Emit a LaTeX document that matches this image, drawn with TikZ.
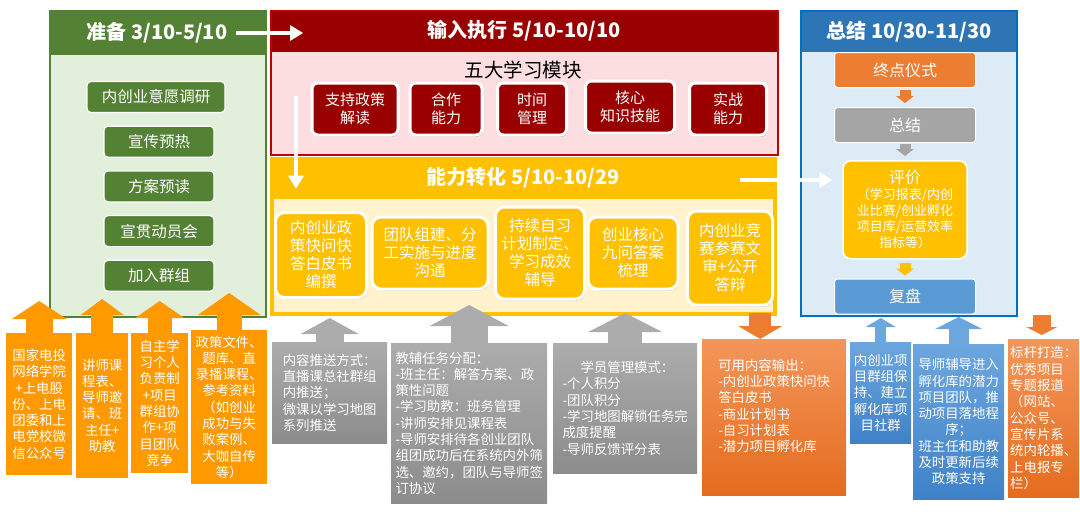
\documentclass[tikz,border=0pt]{standalone}
\usepackage{fontspec}
\setmainfont{Noto Sans CJK SC}
\usepackage{xcolor}
\usepackage{tikz}
\usetikzlibrary{arrows.meta,positioning,calc,shadows}
\definecolor{prepgreen}{RGB}{84,130,53}
\definecolor{preplight}{RGB}{226,239,218}
\definecolor{inred}{RGB}{153,0,0}
\definecolor{inborder}{RGB}{192,0,0}
\definecolor{inpink}{RGB}{252,222,225}
\definecolor{capyellow}{RGB}{255,192,0}
\definecolor{caplight}{RGB}{255,242,204}
\definecolor{sumblue}{RGB}{46,117,182}
\definecolor{sumborder}{RGB}{0,112,192}
\definecolor{sumlight}{RGB}{221,235,247}
\definecolor{endorange}{RGB}{237,125,49}
\definecolor{sumgray}{RGB}{165,165,165}
\definecolor{reviewblue}{RGB}{91,155,213}
\definecolor{srcorange}{RGB}{255,153,0}
\definecolor{graytop}{RGB}{172,172,172}
\definecolor{graybot}{RGB}{140,140,140}
\definecolor{outtop}{RGB}{243,150,90}
\definecolor{outbot}{RGB}{228,108,30}
\definecolor{bluetop}{RGB}{108,166,222}
\definecolor{bluebot}{RGB}{64,130,200}

\begin{document}
\begin{tikzpicture}[x=1pt, y=-1pt,
  panel/.style={rectangle, anchor=north west, inner sep=0pt, outer sep=0pt},
  headtxt/.style={text=white, inner sep=0pt, font=\bfseries\fontsize{20}{22}\selectfont},
  softshadow/.style={drop shadow={shadow xshift=1pt, shadow yshift=-1.5pt, opacity=0.3, fill=black}},
  gbox/.style={draw=white, line width=1.2pt, fill=prepgreen, rounded corners=4pt, text=white, font=\fontsize{15.5}{18}\selectfont, minimum width=110pt, minimum height=31pt, inner sep=0pt},
  mbox/.style={softshadow, draw=white, line width=3pt, fill=inred, rounded corners=6pt, text=white, align=center, font=\fontsize{15}{18}\selectfont, minimum height=52pt, inner sep=0pt},
  ybox/.style={softshadow, draw=white, line width=3pt, fill=capyellow, rounded corners=9pt, text=white, align=center, font=\fontsize{15.5}{18}\selectfont, inner sep=0pt},
  sbox/.style={draw=white, line width=1pt, rounded corners=3pt, text=white, font=\fontsize{16}{19}\selectfont, minimum width=141pt, minimum height=35pt, inner sep=0pt},
  note/.style={anchor=north west, text=white, align=center, font=\fontsize{13.4}{16.3}\selectfont, inner sep=2pt},
  flow/.style={draw=white, line width=4.5pt, -{Triangle[length=13pt,width=16pt,line width=0pt]}},
]
\useasboundingbox (0,0) rectangle (1080,515);

% stage panels
\node[panel, fill=preplight, minimum width=216pt, minimum height=306pt] (preppanel) at (50,11) {};
\fill[prepgreen] (preppanel.north west) rectangle ++(216,44);
\draw[prepgreen, line width=2pt] (preppanel.north west) rectangle (preppanel.south east);

\node[panel, fill=inpink, minimum width=507pt, minimum height=144pt] (inpanel) at (271,11) {};
\fill[inred] (inpanel.north west) rectangle ++(507,41);
\draw[inborder, line width=1.5pt] (inpanel.north west) rectangle (inpanel.south east);

\node[panel, fill=capyellow, minimum width=507pt, minimum height=159pt] (cappanel) at (270,157) {};
\fill[caplight] ($(cappanel.north west)+(4,42)$) rectangle ($(cappanel.south east)+(-4,-4)$);

\node[panel, fill=sumlight, minimum width=216pt, minimum height=305pt] (sumpanel) at (801,11) {};
\fill[sumblue] (sumpanel.north west) rectangle ++(216,41);
\draw[sumborder, line width=2pt] (sumpanel.north west) rectangle (sumpanel.south east);

\node[headtxt] (preptitle) at (157,33) {准备 3/10-5/10};
\node[headtxt] (intitle) at (524,31) {输入执行 5/10-10/10};
\node[headtxt] (captitle) at (523,178) {能力转化 5/10-10/29};
\node[headtxt] (sumtitle) at (909,32) {总结 10/30-11/30};
\node[font=\fontsize{19.5}{22}\selectfont] (modtitle) at (523,70) {五大学习模块};

% preparation steps
\node[gbox, minimum width=138pt] (g1) at (156,97) {内创业意愿调研};
\node[gbox, below=12.5pt of g1, xshift=3pt] (g2) {宣传预热};
\node[gbox, below=12.5pt of g2] (g3) {方案预读};
\node[gbox, below=12.5pt of g3] (g4) {宣贯动员会};
\node[gbox, below=12.5pt of g4] (g5) {加入群组};

% five modules
\node[mbox, minimum width=86pt] (m1) at (355,109) {支持政策\\解读};
\node[mbox, minimum width=72pt] (m2) at (446,109) {合作\\能力};
\node[mbox, minimum width=69pt] (m3) at (532,109) {时间\\管理};
\node[mbox, minimum width=89pt] (m4) at (630,107) {核心\\知识技能};
\node[mbox, minimum width=77pt] (m5) at (728,109) {实战\\能力};

% capability tasks
\node[ybox, minimum width=91pt, minimum height=85pt] (y1) at (321,255) {内创业政\\策快问快\\答白皮书\\编撰};
\node[ybox, minimum width=116pt, minimum height=72pt] (y2) at (430,253) {团队组建、分\\工实施与进度\\沟通};
\node[ybox, minimum width=89pt, minimum height=92pt] (y3) at (540,253) {持续自习\\计划制定、\\学习成效\\辅导};
\node[ybox, minimum width=90pt, minimum height=72pt] (y4) at (633,253) {创业核心\\九问答案\\梳理};
\node[ybox, minimum width=85pt, minimum height=94pt] (y5) at (730,258) {内创业竞\\赛参赛文\\审+公开\\答辩};

% summary steps
\node[sbox, fill=endorange] (s1) at (905,70) {终点仪式};
\node[sbox, fill=sumgray, below=19pt of s1] (s2) {总结};
\node[sbox, fill=capyellow, below=17pt of s2, minimum width=124pt, minimum height=98pt, line width=1.5pt, rounded corners=8pt, align=center, font=\fontsize{13}{16}\selectfont] (s3) {{\fontsize{16}{18}\selectfont 评价}\\（学习报表/内创\\业比赛/创业孵化\\项目库/运营效率\\指标等）};
\node[sbox, fill=reviewblue, below=19pt of s3] (s4) {复盘};

\draw[endorange, line width=11pt, -{Triangle[length=7pt,width=18pt,line width=0pt]}, shorten <=2pt, shorten >=4pt] (s1) -- (s2);
\draw[sumgray, line width=11pt, -{Triangle[length=7pt,width=18pt,line width=0pt]}, shorten <=1pt, shorten >=4pt] (s2) -- (s3);
\draw[capyellow, line width=11pt, -{Triangle[length=7pt,width=18pt,line width=0pt]}, shorten <=3pt, shorten >=3pt] (s3) -- (s4);

% stage flow
\draw[flow] ($(preptitle.east)+(8,0)$) -- ($(preptitle.east -| inpanel.west)+(32,0)$);
\draw[flow] ($(inpanel.west |- m1.north)+(25,14)$) -- ($(inpanel.west |- captitle.south)+(25,0)$);
\draw[flow] ($(cappanel.east |- captitle)+(-37,2)$) -- ($(s3.west |- captitle)+(-10,2)$);

% support notes
\node[note, fill=srcorange, minimum width=66pt, minimum height=142pt] (a1) at (6,333) {国家电投\\网络学院\\+上电股\\份、上电\\团委和上\\电党校微\\信公众号};
\node[note, fill=srcorange, minimum width=52pt, minimum height=145pt] (a2) at (76,333) {讲师课\\程表、\\导师邀\\请、班\\主任+\\助教};
\node[note, fill=srcorange, minimum width=57pt, minimum height=140pt] (a3) at (131,333) {自主学\\习个人\\负责制\\+项目\\群组协\\作+项\\目团队\\竞争};
\node[note, fill=srcorange, minimum width=76pt, minimum height=154pt] (a4) at (191,330) {政策文件、\\题库、直\\录播课程、\\参考资料\\（如创业\\成功与失\\败案例、\\大咖自传\\等）};

\node[note, top color=graytop, bottom color=graybot, align=left, minimum width=115pt, minimum height=101pt] (push) at (272,342) {内容推送方式：\\直播课总社群组\\内推送；\\微课以学习地图\\系列推送};
\node[note, top color=graytop, bottom color=graybot, align=left, minimum width=156pt, minimum height=160pt] (tutor) at (391,343) {教辅任务分配：\\-班主任：解答方案、政\\策性问题\\-学习助教：班务管理\\-讲师安排见课程表\\-导师安排待各创业团队\\组团成功后在系统内外筛\\选、邀约，团队与导师签\\订协议};
\node[note, top color=graytop, bottom color=graybot, align=left, minimum width=144pt, minimum height=130pt] (learner) at (553,343) {\hspace*{18pt}学员管理模式：\\-个人积分\\-团队积分\\-学习地图解锁任务完\\成度提醒\\-导师反馈评分表};
\node[note, top color=outtop, bottom color=outbot, align=left, minimum width=144pt, minimum height=156pt, text depth=24pt] (output) at (702,339) {可用内容输出：\\-内创业政策快问快\\答白皮书\\-商业计划书\\-自习计划表\\-潜力项目孵化库};

\node[note, top color=bluetop, bottom color=bluebot, minimum width=61pt, minimum height=101pt] (b1) at (850,342) {内创业项\\目群组保\\持、建立\\孵化库项\\目社群};
\node[note, top color=bluetop, bottom color=bluebot, minimum width=91pt, minimum height=155pt] (b2) at (913,344) {导师辅导进入\\孵化库的潜力\\项目团队，推\\动项目落地程\\序；\\班主任和助教\\及时更新后续\\政策支持};
\node[note, top color=outtop, bottom color=outbot, align=left, minimum width=70pt, minimum height=158pt] (bench) at (1008,339) {标杆打造：\\优秀项目\\专题报道\\（网站、\\公众号、\\宣传片系\\统内轮播、\\上电报专\\栏）};

% block arrows
\draw[srcorange, line width=27pt, -{Triangle[length=18pt,width=55pt,line width=0pt]}] (a1.north) -- ++(0,-32);
\draw[srcorange, line width=22pt, -{Triangle[length=16pt,width=43pt,line width=0pt]}] (a2.north) -- ++(0,-34);
\draw[srcorange, line width=24pt, -{Triangle[length=17pt,width=49pt,line width=0pt]}] (a3.north) -- ++(0,-32);
\draw[srcorange, line width=25pt, -{Triangle[length=22pt,width=63pt,line width=0pt]}] (a4.north) -- ++(0,-37);
\draw[graytop, line width=28pt, -{Triangle[length=16pt,width=58pt,line width=0pt]}] (push.north) -- ++(0,-24);
\draw[graytop, line width=37pt, -{Triangle[length=21pt,width=79pt,line width=0pt]}] (tutor.north) -- ++(0,-38);
\draw[graytop, line width=34pt, -{Triangle[length=19pt,width=74pt,line width=0pt]}] (learner.north) -- ++(0,-30);
\draw[bluetop, line width=11pt, -{Triangle[length=9pt,width=30pt,line width=0pt]}] (b1.north) -- ++(0,-24);
\draw[bluetop, line width=20pt, -{Triangle[length=12pt,width=47pt,line width=0pt]}] (b2.north) -- ++(0,-27);
\draw[endorange, line width=22pt, -{Triangle[length=13pt,width=44pt,line width=0pt]}] ($(output.north)+(-14,-26)$) -- ($(output.north)+(-14,0)$);
\draw[endorange, line width=18pt, -{Triangle[length=8pt,width=31pt,line width=0pt]}] ($(bench.north)+(-2,-24)$) -- ($(bench.north)+(-2,-4)$);
\end{tikzpicture}
\end{document}
